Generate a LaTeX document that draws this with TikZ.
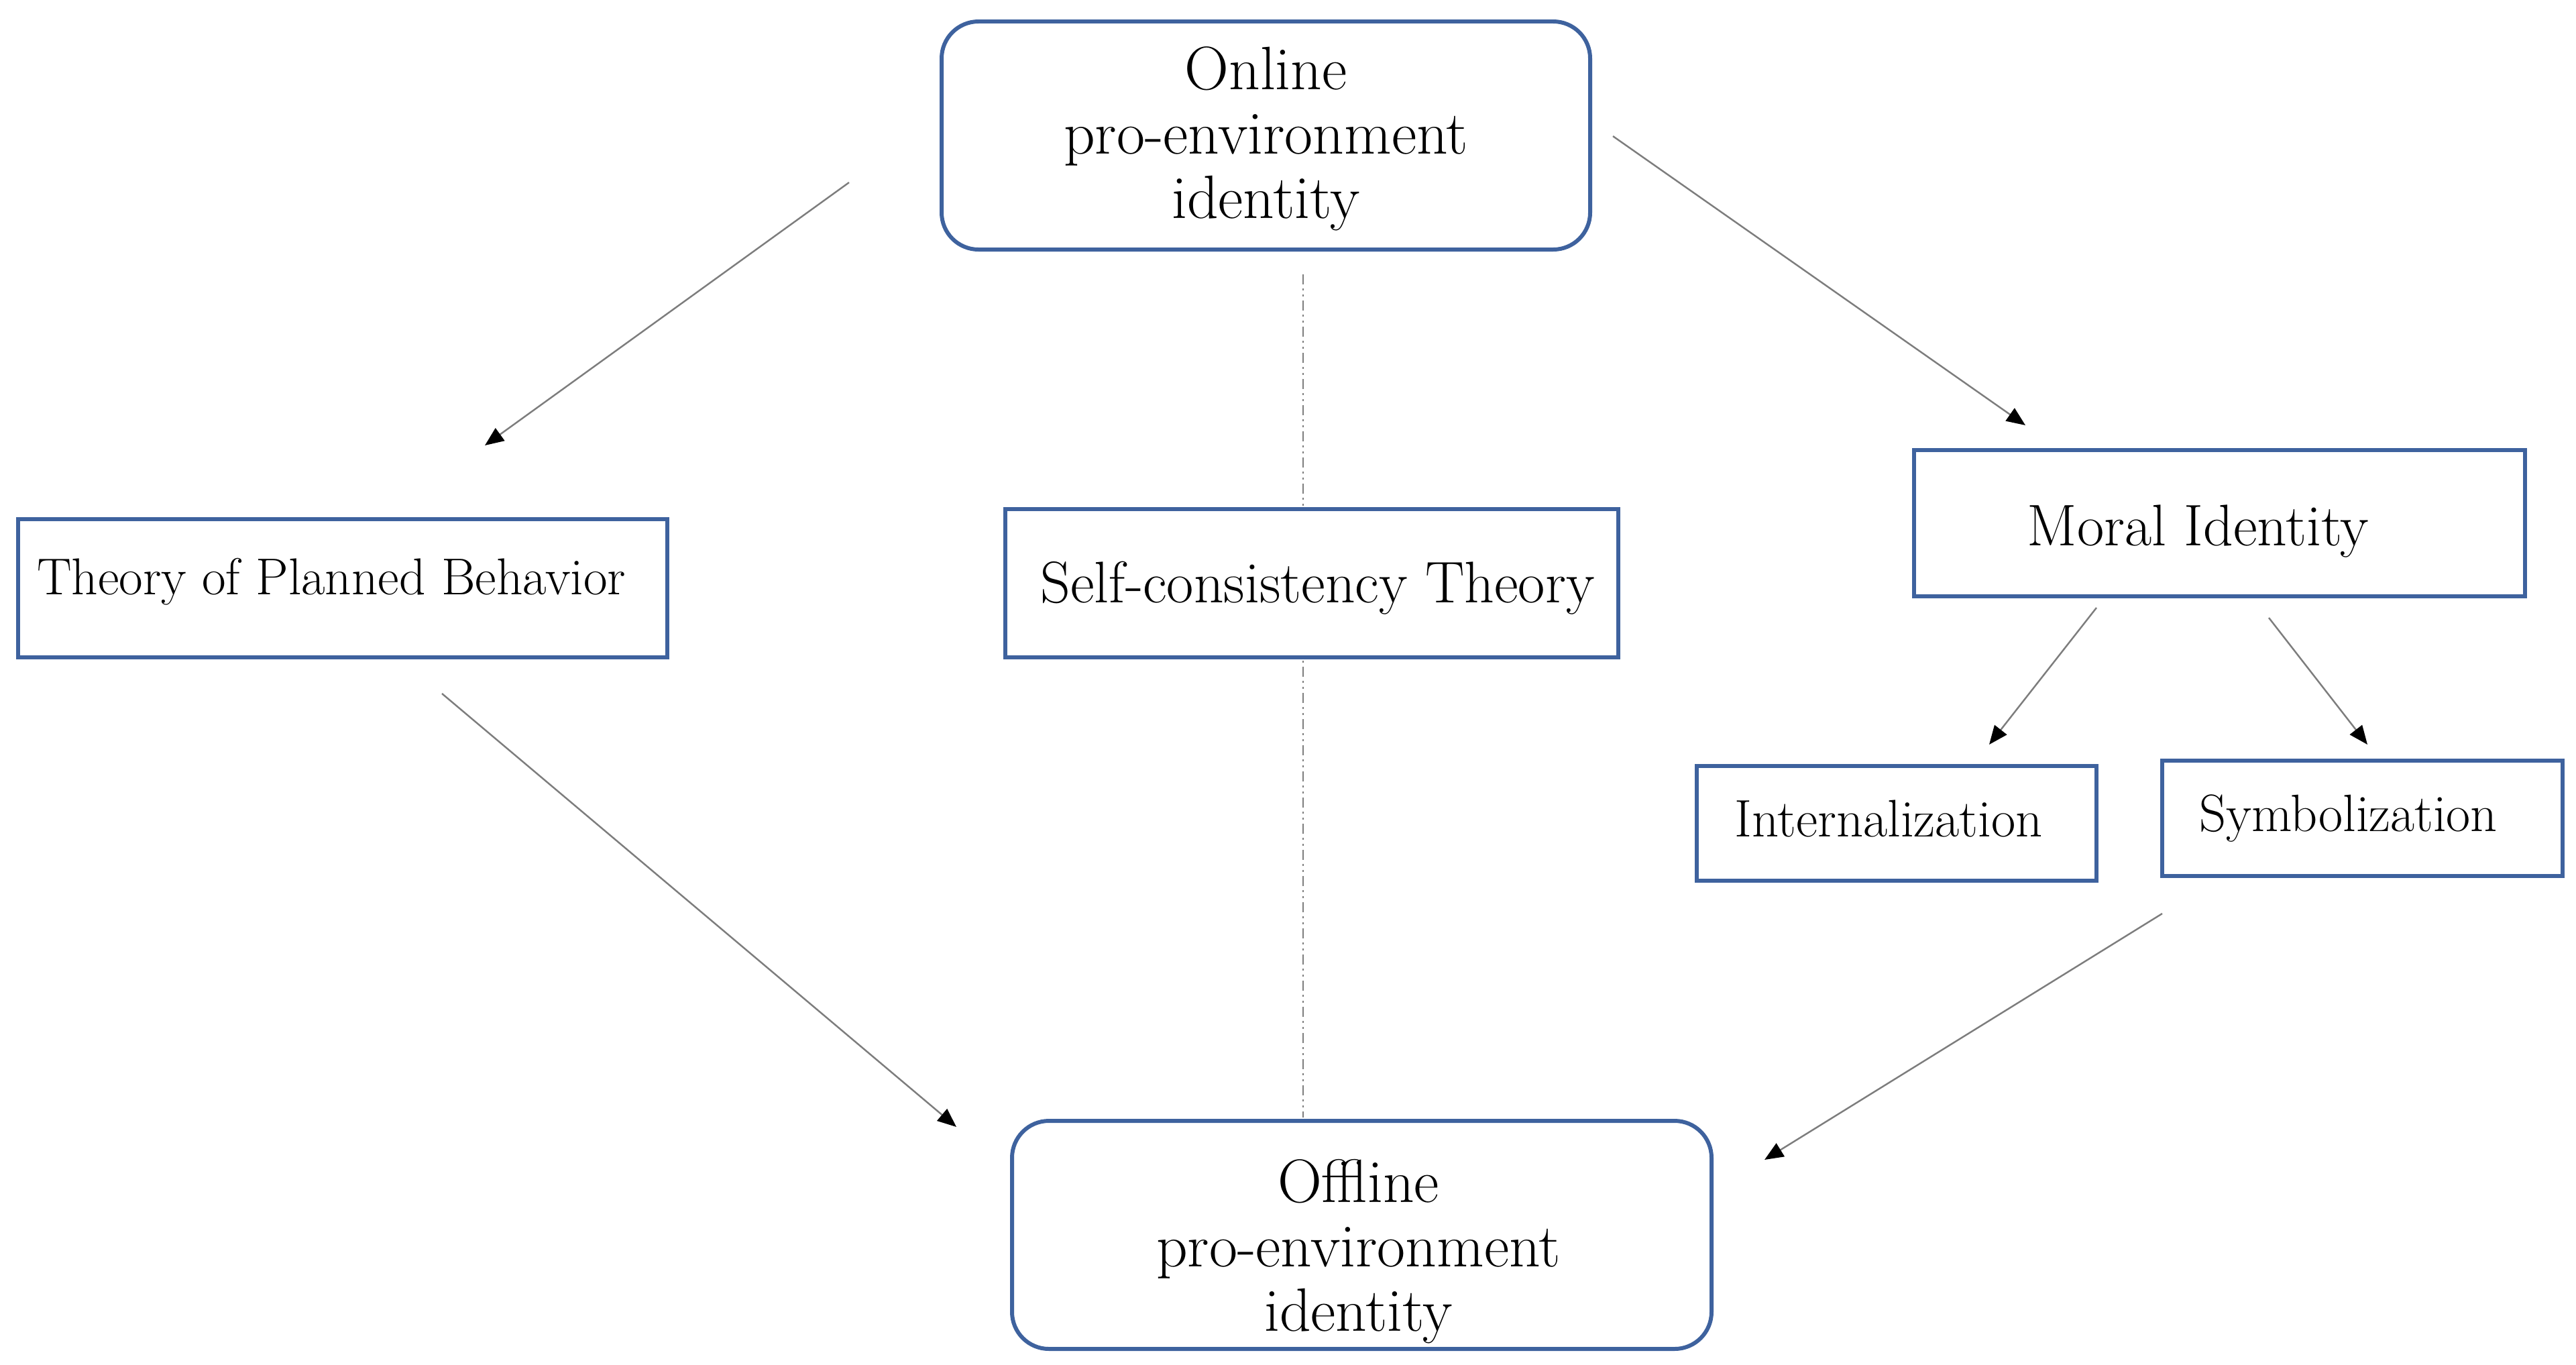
\documentclass[tikz,border=0pt]{standalone}
\usetikzlibrary{arrows.meta}
\definecolor{boxblue}{RGB}{62,98,158}
\definecolor{arrgray}{RGB}{125,125,125}
\tikzset{
  roundbox/.style={draw=boxblue, line width=1.7pt, rounded corners=0.55cm, fill=white, inner sep=0pt},
  sqbox/.style={draw=boxblue, line width=1.5pt, fill=white, inner sep=0pt},
  lbl/.style={inner sep=0pt, align=center},
  conn/.style={draw=arrgray, line width=0.7pt, -{Triangle[length=0.28cm,width=0.23cm,black]}},
  dashdotline/.style={draw=arrgray, line width=0.8pt, dash pattern=on 0.15cm off 0.06cm on 0.03cm off 0.06cm on 0.03cm off 0.06cm}
}
\begin{document}
\begin{tikzpicture}
\useasboundingbox (0,0) rectangle (38.41,-20.34);
% dash-dot line behind the middle box
\coordinate (d1) at (19.43,-4.09);
\coordinate (d2) at (19.43,-16.66);
\draw[dashdotline] (d1) -- (d2);

% boxes
\node[roundbox, minimum width=9.67cm, minimum height=3.40cm] (top) at (18.875,-2.02) {};
\node[roundbox, minimum width=10.43cm, minimum height=3.40cm] (bottom) at (20.305,-18.41) {};
\node[sqbox, minimum width=9.68cm, minimum height=2.06cm] (tpb) at (5.11,-8.77) {};
\node[sqbox, minimum width=9.14cm, minimum height=2.21cm] (sct) at (19.56,-8.695) {};
\node[sqbox, minimum width=9.11cm, minimum height=2.18cm] (mi) at (33.095,-7.80) {};
\node[sqbox, minimum width=5.96cm, minimum height=1.71cm] (int) at (28.28,-12.275) {};
\node[sqbox, minimum width=5.97cm, minimum height=1.72cm] (sym) at (35.225,-12.20) {};

% texts
\node[lbl, font=\fontsize{26}{27.3}\selectfont] (toptext) at ([yshift=-0.05cm]top.center) {Online\\pro-environment\\identity};
\node[lbl, font=\fontsize{26}{27.3}\selectfont] (bottomtext) at ([xshift=-0.05cm,yshift=-0.245cm]bottom.center) {Offline\\pro-environment\\identity};
\node[lbl, font=\fontsize{22}{26}\selectfont] (tpbtext) at ([xshift=-0.17cm,yshift=0.10cm]tpb.center) {Theory of Planned Behavior};
\node[lbl, font=\fontsize{24.9}{29}\selectfont] (scttext) at ([xshift=0.086cm,yshift=-0.07cm]sct.center) {Self-consistency Theory};
\node[lbl, font=\fontsize{24.9}{29}\selectfont] (mitext) at ([xshift=-0.32cm,yshift=-0.12cm]mi.center) {Moral Identity};
\node[lbl, font=\fontsize{22.4}{26}\selectfont] (inttext) at ([xshift=-0.12cm,yshift=0.07cm]int.center) {Internalization};
\node[lbl, font=\fontsize{22.3}{26}\selectfont] (symtext) at ([xshift=-0.21cm]sym.center) {Symbolization};

% connectors
\coordinate (a1s) at (12.66,-2.72);  \coordinate (a1e) at (7.23,-6.64);
\coordinate (a2s) at (24.05,-2.03);  \coordinate (a2e) at (30.20,-6.34);
\coordinate (a3s) at (6.59,-10.34);  \coordinate (a3e) at (14.26,-16.80);
\coordinate (a4s) at (31.26,-9.06);  \coordinate (a4e) at (29.66,-11.10);
\coordinate (a5s) at (33.83,-9.21);  \coordinate (a5e) at (35.30,-11.10);
\coordinate (a6s) at (32.24,-13.62); \coordinate (a6e) at (26.31,-17.29);

\draw[conn] (a1s) -- (a1e);
\draw[conn] (a2s) -- (a2e);
\draw[conn] (a3s) -- (a3e);
\draw[conn] (a4s) -- (a4e);
\draw[conn] (a5s) -- (a5e);
\draw[conn] (a6s) -- (a6e);
\end{tikzpicture}
\end{document}
